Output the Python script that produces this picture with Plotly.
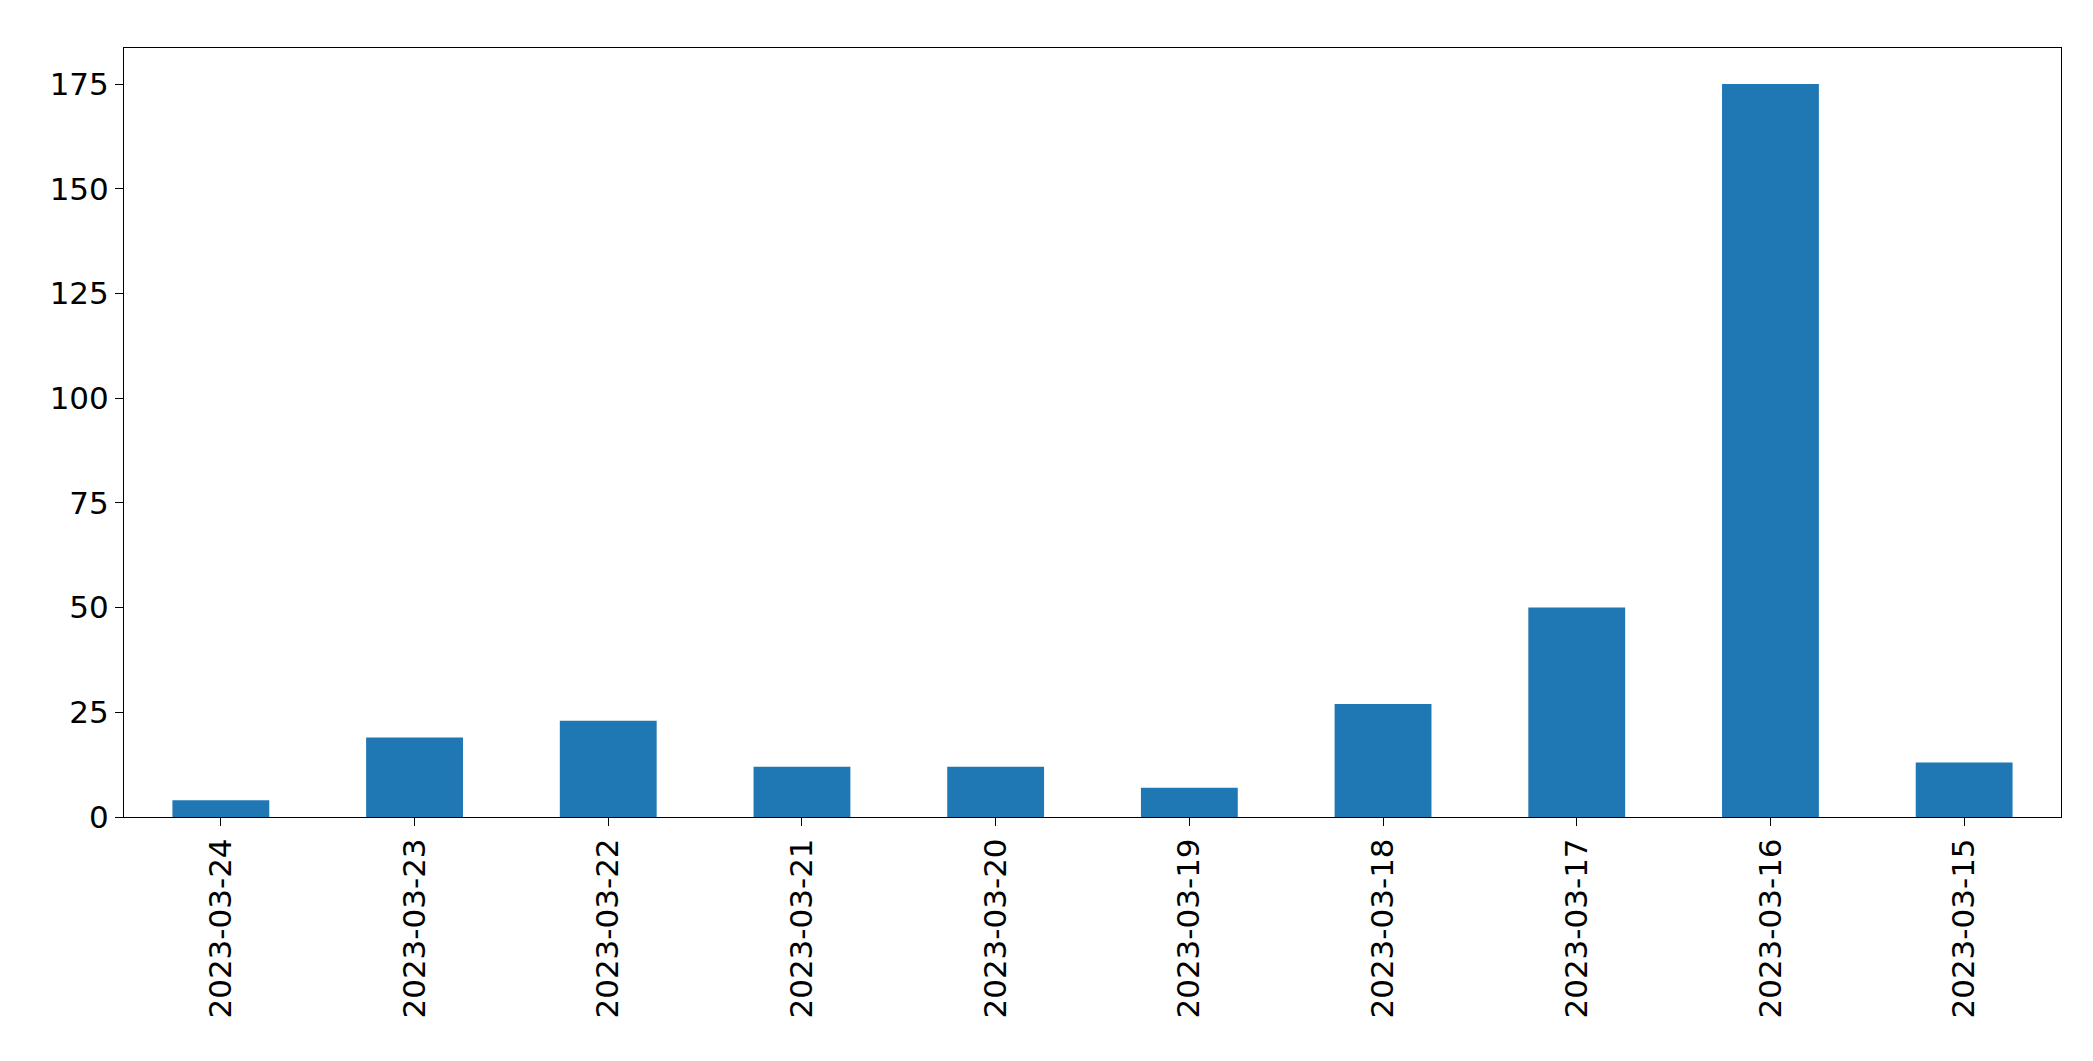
import plotly.graph_objects as go

dates = ["2023-03-24", "2023-03-23", "2023-03-22", "2023-03-21", "2023-03-20",
         "2023-03-19", "2023-03-18", "2023-03-17", "2023-03-16", "2023-03-15"]
counts = [4, 19, 23, 12, 12, 7, 27, 50, 175, 13]

fig = go.Figure(go.Bar(x=dates, y=counts, width=0.5, marker_color="#1f77b4",
                       marker_line_width=0))

axis_style = dict(showline=True, linecolor="black", linewidth=1, mirror=True,
                  showgrid=False, zeroline=False, ticks="outside", ticklen=8,
                  tickcolor="black", tickfont=dict(family="DejaVu Sans", size=31, color="black"))

fig.update_xaxes(type="category", tickangle=-90, range=[-0.5, 9.5], **axis_style)
fig.update_yaxes(range=[0, 183.6], tickvals=[0, 25, 50, 75, 100, 125, 150, 175], **axis_style)

fig.update_layout(width=2093, height=1061, plot_bgcolor="white", paper_bgcolor="white",
                  margin=dict(l=116, r=40, t=40, b=252), showlegend=False)

fig.write_html("out.html")
